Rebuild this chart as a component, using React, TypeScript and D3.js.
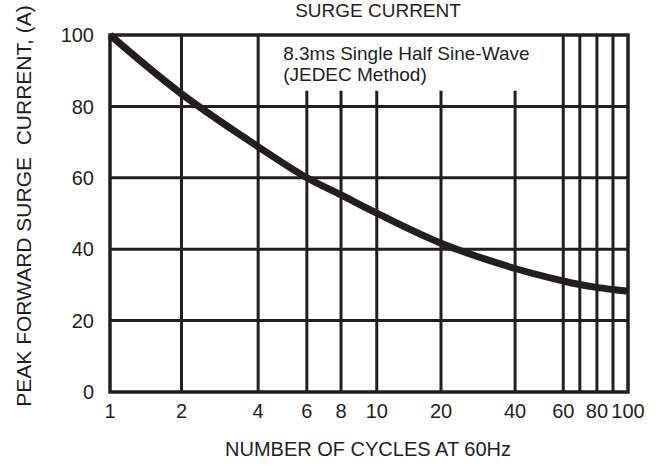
import React from "react";
import * as d3 from "d3";

// Data
const cycles = [1, 2, 4, 6, 8, 10, 20, 40, 60, 70, 80, 90, 100];
const current = [100, 83.5, 68.7, 60, 55.2, 50.1, 41.7, 34.6, 31.1, 30.1, 29.3, 28.7, 28.2];

// Axis calibration (the reference's log axis is hand drawn: tick values and their relative positions)
const xGridValues = [1, 2, 4, 6, 8, 10, 20, 40, 60, 70, 80, 90, 100];
const xGridFrac = [0, 0.138, 0.286, 0.38, 0.446, 0.515, 0.639, 0.782, 0.875, 0.907, 0.94, 0.971, 1];
const xTickLabels = [1, 2, 4, 6, 8, 10, 20, 40, 60, 80, 100];
const xFullLines = [2, 4, 60, 70, 80, 90];
const xPartialLines = [6, 8, 10, 20, 40];
const yTicks = [0, 20, 40, 60, 80, 100];
const yGrid = [20, 40, 60, 80];
const noteFloor = 84.4;

const title = "SURGE CURRENT";
const xTitle = "NUMBER OF CYCLES AT 60Hz";
const yTitle = "PEAK FORWARD SURGE  CURRENT, (A)";
const note1 = "8.3ms Single Half Sine-Wave";
const note2 = "(JEDEC Method)";

const W = 666;
const H = 466;
const M = { left: 110, right: 38, top: 35, bottom: 74 };
const INK = "#231f20";
const FONT = "'Liberation Sans', Arial, Helvetica, sans-serif";

export default function App() {
  const x0 = M.left;
  const x1 = W - M.right;
  const y0 = H - M.bottom;
  const y1 = M.top;

  const x = d3
    .scaleLog()
    .domain(xGridValues)
    .range(xGridFrac.map((f) => x0 + f * (x1 - x0)));
  const y = d3.scaleLinear().domain([0, 100]).range([y0, y1]);

  const line = d3
    .line<number>()
    .x((_, i) => x(cycles[i]))
    .y((d) => y(d))
    .curve(d3.curveCatmullRom.alpha(0.5));

  const gw = 3;

  return (
    <svg
      width={W}
      height={H}
      style={{ position: "absolute", left: 0, top: 0, background: "#fff" }}
      fontFamily={FONT}
    >
      <rect x={0} y={0} width={W} height={H} fill="#fff" />
      {/* horizontal grid */}
      {yGrid.map((v) => (
        <line key={"h" + v} x1={x0} x2={x1} y1={y(v)} y2={y(v)} stroke={INK} strokeWidth={gw} />
      ))}
      {/* vertical full lines */}
      {xFullLines.map((v) => (
        <line key={"vf" + v} x1={x(v)} x2={x(v)} y1={y1} y2={y0} stroke={INK} strokeWidth={gw} />
      ))}
      {/* vertical partial lines */}
      {xPartialLines.map((v) => (
        <line key={"vp" + v} x1={x(v)} x2={x(v)} y1={y(noteFloor)} y2={y0} stroke={INK} strokeWidth={gw} />
      ))}
      {/* frame */}
      <rect x={x0} y={y1} width={x1 - x0} height={y0 - y1} fill="none" stroke={INK} strokeWidth={3.5} />
      {/* curve */}
      <path d={line(current) || ""} fill="none" stroke={INK} strokeWidth={7} />

      {/* y ticks */}
      {yTicks.map((v) => (
        <text key={"yt" + v} x={x0 - 16} y={y(v)} dy="0.36em" textAnchor="end" fontSize={20} fill={INK}>
          {v}
        </text>
      ))}
      {/* x ticks */}
      {xTickLabels.map((v) => (
        <text key={"xt" + v} x={x(v)} y={y0 + 26} textAnchor="middle" fontSize={20} fill={INK}>
          {v}
        </text>
      ))}

      {/* note */}
      <text x={x(4) + 25} y={y1 + 25} fontSize={19} fill={INK}>
        {note1}
      </text>
      <text x={x(4) + 25} y={y1 + 46} fontSize={19} fill={INK}>
        {note2}
      </text>

      {/* titles */}
      <text x={378} y={17} textAnchor="middle" fontSize={19} fill={INK}>
        {title}
      </text>
      <text x={368} y={456} textAnchor="middle" fontSize={20} fill={INK}>
        {xTitle}
      </text>
      <text
        transform={`translate(31, 206) rotate(-90)`}
        textAnchor="middle"
        fontSize={21}
        fill={INK}
        style={{ whiteSpace: "pre" }}
      >
        {yTitle}
      </text>
    </svg>
  );
}
